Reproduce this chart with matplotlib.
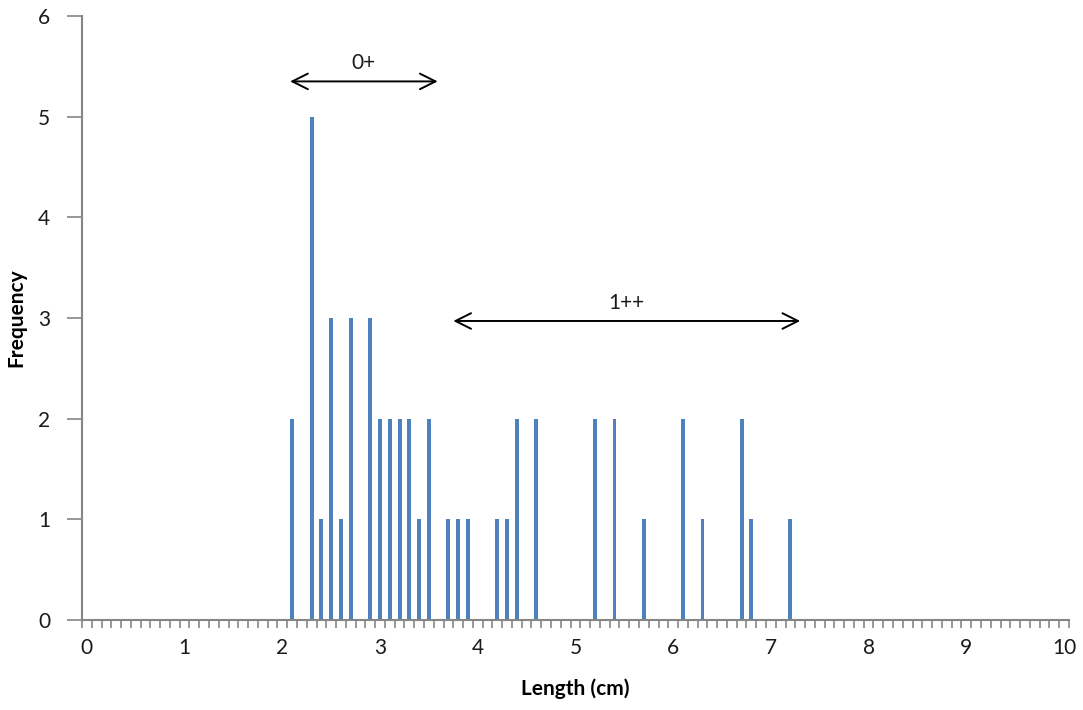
import numpy as np
import matplotlib
matplotlib.use('Agg')
import matplotlib.pyplot as plt

# frequency of each length (cm)
lengths = [2.1, 2.3, 2.4, 2.5, 2.6, 2.7, 2.9, 3.0, 3.1, 3.2, 3.3, 3.4, 3.5,
           3.7, 3.8, 3.9, 4.2, 4.3, 4.4, 4.6, 5.2, 5.4, 5.7, 6.1, 6.3, 6.7,
           6.8, 7.2]
counts = [2, 5, 1, 3, 1, 3, 3, 2, 2, 2, 2, 1, 2,
          1, 1, 1, 1, 1, 2, 2, 2, 2, 1, 2, 1, 2,
          1, 1]
xlabels = [str(i) for i in range(11)]

# age-class annotations: (start, end, arrow height, label)
groups = [(2.08, 3.59, 5.35, '0+'), (3.75, 7.30, 2.97, '1++')]

plt.rcParams['font.family'] = ['Lato', 'DejaVu Sans']

fig = plt.figure(figsize=(10.83, 7.10), dpi=100)
ax = fig.add_axes([0.0757, 0.1268, 0.9113, 0.8507])

ax.bar(lengths, counts, width=0.04, color='#4F81BD', edgecolor='none')

# annotation arrows
for start, end, h, lab in groups:
    ax.annotate('', xy=(start, h), xytext=(end, h),
                arrowprops=dict(arrowstyle='<->', color='black', lw=1.4,
                                mutation_scale=28, shrinkA=0, shrinkB=0))
    ax.text((start + end) / 2, h + 0.08, lab, ha='center', va='bottom',
            fontsize=15, color='#1a1a1a')

ax.set_xlim(-0.05, 10.05)
ax.set_ylim(0, 6)

# category-style axis: tick marks between categories, labels at whole cm
ax.set_xticks(np.arange(11))
ax.set_xticklabels(xlabels)
ax.set_xticks(np.arange(-0.05, 10.06, 0.1), minor=True)
ax.tick_params(axis='x', which='major', length=0, pad=13, labelsize=15,
               colors='#1a1a1a')
ax.tick_params(axis='x', which='minor', length=6, width=1.2, color='#868686',
               direction='out')
ax.set_yticks(range(7))
ax.tick_params(axis='y', length=11, width=1.2, color='#868686', pad=12,
               labelsize=15, labelcolor='#1a1a1a')

for side in ['top', 'right']:
    ax.spines[side].set_visible(False)
for side in ['left', 'bottom']:
    ax.spines[side].set_color('#868686')
    ax.spines[side].set_linewidth(1.5)

ax.set_xlabel('Length (cm)', fontsize=15, fontweight='bold', labelpad=15)
ax.set_ylabel('Frequency', fontsize=15, fontweight='bold', labelpad=8)

fig.savefig('out.png', dpi=100)
